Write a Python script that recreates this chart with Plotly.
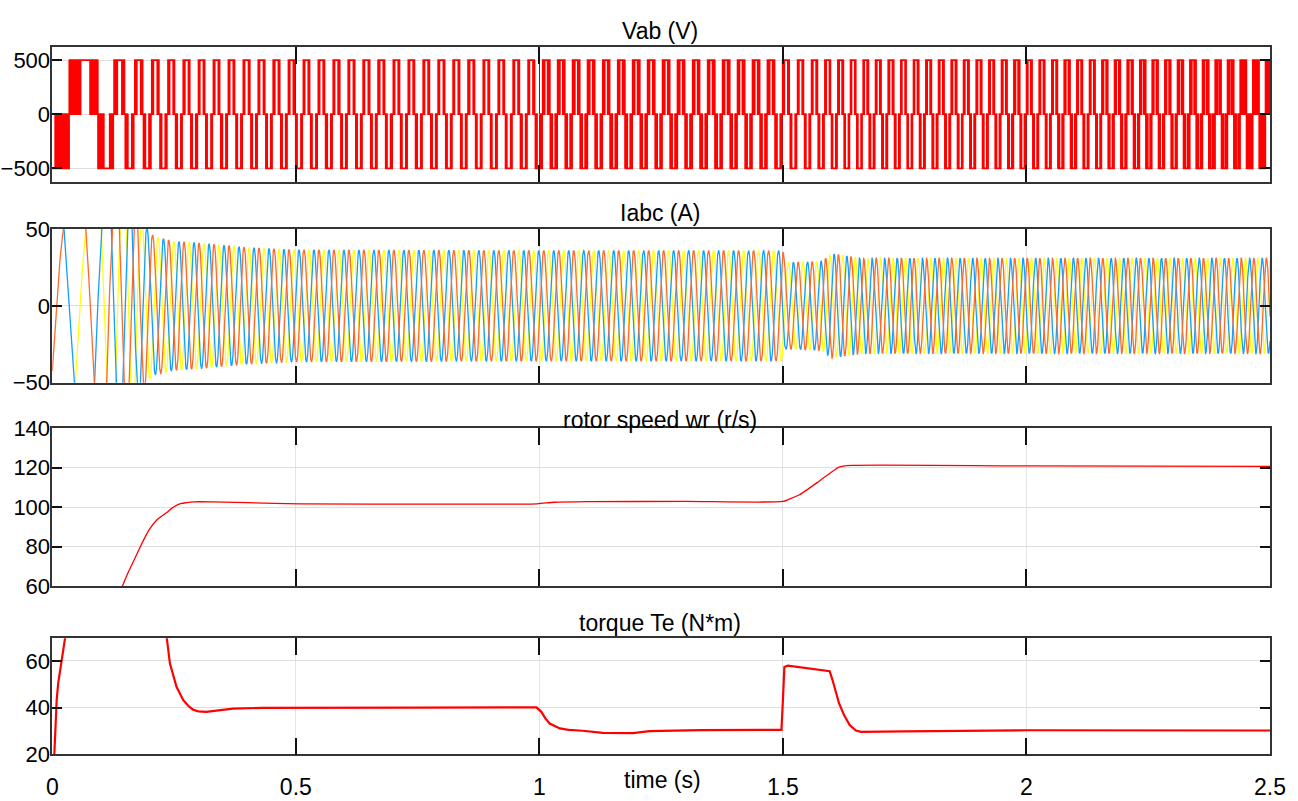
import numpy as np
import plotly.graph_objects as go

# ---------------- data ----------------
x_tick_vals = [0, 0.5, 1, 1.5, 2, 2.5]
x_tick_text = ["0", "0.5", "1", "1.5", "2", "2.5"]

# electrical frequency (Hz), read from the spacing of the Vab pulses
freq_t = [0.0, 0.07, 0.105, 0.13, 0.155, 0.19, 0.225, 0.26, 0.30, 1.0, 1.5, 1.62, 2.5]
freq_hz = [6.0, 8.0, 14.0, 20.0, 25.6, 29.4, 30.3, 32.2, 32.5, 32.5, 32.5, 38.7, 38.7]

# modulation depth (how filled the Vab pulses look)
mod_t = [0.0, 0.10, 0.16, 0.30, 0.99, 1.01, 1.49, 1.52, 2.20, 2.50]
mod_m = [1.6, 2.0, 2.6, 3.2, 3.2, 2.2, 2.2, 3.2, 2.4, 1.5]
vab_dc = 500  # V

# phase-current amplitude envelope (A)
amp_t = [0.0, 0.10, 0.15, 0.185, 0.197, 0.21, 0.25, 0.30, 0.40, 0.50, 1.0, 1.5, 1.505, 1.58, 1.60, 1.66, 2.5]
amp_a = [120, 110, 80, 60, 48.5, 45, 42, 41, 38, 36.5, 36, 36, 28, 29, 34, 31, 31]

# rotor speed (rad/s)
speed_t = [0.0, 0.04, 0.10, 0.144, 0.155, 0.166, 0.18, 0.19, 0.20, 0.215, 0.235, 0.245, 0.255, 0.265,
           0.276, 0.29, 0.303, 0.40, 0.508, 0.80, 0.995, 1.03, 1.10, 1.30, 1.50, 1.512, 1.534, 1.575,
           1.605, 1.615, 1.63, 2.0, 2.5]
speed_w = [0.0, 5.0, 38.0, 60.0, 66.5, 72.2, 79.5, 84.5, 88.9, 93.5, 97.2, 99.3, 100.8, 101.8,
           102.2, 102.6, 102.7, 102.2, 101.6, 101.5, 101.6, 102.4, 102.7, 102.8, 102.8, 103.9, 106.2, 113.2,
           118.6, 120.2, 121.0, 120.8, 120.6]

# electromagnetic torque (N*m)
torque_t = [0.0, 0.004, 0.009, 0.012, 0.019, 0.026, 0.03, 0.20, 0.232, 0.2415, 0.255, 0.269, 0.279,
            0.289, 0.30, 0.316, 0.34, 0.371, 0.43, 0.508, 0.75, 0.994, 1.004, 1.012, 1.021, 1.042,
            1.06, 1.089, 1.13, 1.192, 1.226, 1.329, 1.497, 1.500, 1.503, 1.51, 1.596, 1.602, 1.615,
            1.625, 1.637, 1.65, 1.66, 1.75, 2.0, 2.5]
torque_v = [0.0, 20.4, 43.2, 50.3, 60.2, 69.6, 75.0, 80.0, 75.0, 58.9, 48.9, 43.2, 40.8,
            39.1, 38.4, 38.2, 38.8, 39.6, 39.9, 40.0, 40.0, 40.1, 38.2, 35.5, 33.2, 31.1,
            30.5, 30.1, 29.2, 29.1, 29.9, 30.4, 30.5, 43.2, 57.4, 58.0, 55.6, 51.7, 42.0,
            37.0, 32.5, 30.2, 29.6, 29.8, 30.3, 30.2]

titles = ["Vab (V)", "Iabc (A)", "rotor speed wr (r/s)", "torque Te (N*m)"]
x_title = "time (s)"

# ---------------- waveform construction ----------------
dt = 1e-5
t = np.arange(0, 2.5 + dt / 2, dt)
f = np.interp(t, freq_t, freq_hz)
phase = 2 * np.pi * np.cumsum(f) * dt
theta0 = np.deg2rad(60) - np.interp(0.068, t, phase)
theta = phase + theta0
m = np.interp(t, mod_t, mod_m)
fc = 1500.0
carrier = 2 * np.abs(2 * ((t * fc) % 1.0) - 1) - 1
sa = (m * np.sin(theta) > carrier).astype(int)
sb = (m * np.sin(theta - 2 * np.pi / 3) > carrier).astype(int)
vab = vab_dc * (sa - sb)
chg = np.flatnonzero(np.diff(vab)) + 1
idx = np.concatenate(([0], chg, [len(vab) - 1]))
vab_x, vab_y = t[idx], vab[idx]

ti = t[::20]
thi = theta[::20]
amp = np.interp(ti, amp_t, amp_a)
lag = np.deg2rad(30)
ia = amp * np.sin(thi - lag)
ib = amp * np.sin(thi - lag - 2 * np.pi / 3)
ic = amp * np.sin(thi - lag + 2 * np.pi / 3)

# ---------------- figure ----------------
W, H = 1298, 801
FONT = "Liberation Sans, Arial, sans-serif"
FS = 23
FT = 22
x0, x1 = 52.3 / W, 1270 / W
panels_px = [(46.7, 181.7), (229, 382.7), (428, 586), (638.3, 754.3)]
yranges = [[-623, 623], [-50, 50], [60, 140], [20, 69.7]]
ytickvals = [[-500, 0, 500], [-50, 0, 50], [60, 80, 100, 120, 140], [20, 40, 60]]

fig = go.Figure()
red = "#FF0000"
fig.add_trace(go.Scatter(x=vab_x, y=vab_y, mode="lines", line=dict(color=red, width=1.8, shape="hv"),
                         xaxis="x", yaxis="y", showlegend=False))
for y, c in [(ia, "#FFFF11"), (ib, "#139FFF"), (ic, "#FF6929")]:
    fig.add_trace(go.Scatter(x=ti, y=y, mode="lines", line=dict(color=c, width=1.3),
                             xaxis="x2", yaxis="y2", showlegend=False))
fig.add_trace(go.Scatter(x=speed_t, y=speed_w, mode="lines", line=dict(color=red, width=1.3, shape="spline", smoothing=0.6),
                         xaxis="x3", yaxis="y3", showlegend=False))
fig.add_trace(go.Scatter(x=torque_t, y=torque_v, mode="lines", line=dict(color=red, width=2.2),
                         xaxis="x4", yaxis="y4", showlegend=False))

layout = dict(width=W, height=H, margin=dict(l=0, r=0, t=0, b=0, autoexpand=False),
              paper_bgcolor="white", plot_bgcolor="white",
              font=dict(family=FONT, size=FS, color="black"))
annotations = []
for i, (top, bot) in enumerate(panels_px):
    k = "" if i == 0 else str(i + 1)
    dom = [1 - bot / H, 1 - top / H]
    layout["xaxis" + k] = dict(
        domain=[x0, x1], range=[0, 2.5], anchor="y" + k, automargin=False,
        tickvals=x_tick_vals, ticktext=x_tick_text, showticklabels=(i == 3),
        ticks="inside", ticklen=17, tickwidth=1.5, tickcolor="#111",
        showline=True, mirror="ticks", linecolor="#333", linewidth=1.6,
        showgrid=True, gridcolor=("#3a3a3a" if i == 0 else "#e3e3e3"), gridwidth=1,
        zeroline=False, tickfont=dict(size=FS), ticklabelstandoff=11,
    )
    layout["yaxis" + k] = dict(
        domain=dom, range=yranges[i], anchor="x" + k, automargin=False,
        tickvals=ytickvals[i], ticks="inside", ticklen=10, tickwidth=1.5, tickcolor="#111",
        showline=True, mirror="ticks", linecolor="#333", linewidth=1.6,
        showgrid=True, gridcolor="#dedede", gridwidth=1, zeroline=False,
        tickfont=dict(size=FT), ticklabelstandoff=-4,
    )
title_y = [31, 213, 420, 623]
for s, yy in zip(titles, title_y):
    annotations.append(dict(text=s, x=660 / W, y=1 - yy / H, xref="paper", yref="paper",
                            showarrow=False, xanchor="center", yanchor="middle",
                            font=dict(size=FS, color="black", family=FONT)))
annotations.append(dict(text=x_title, x=662 / W, y=1 - 780 / H, xref="paper", yref="paper",
                        showarrow=False, xanchor="center", yanchor="middle",
                        font=dict(size=FS, color="black", family=FONT)))
layout["annotations"] = annotations
fig.update_layout(**layout)
fig.write_html("out.html")
